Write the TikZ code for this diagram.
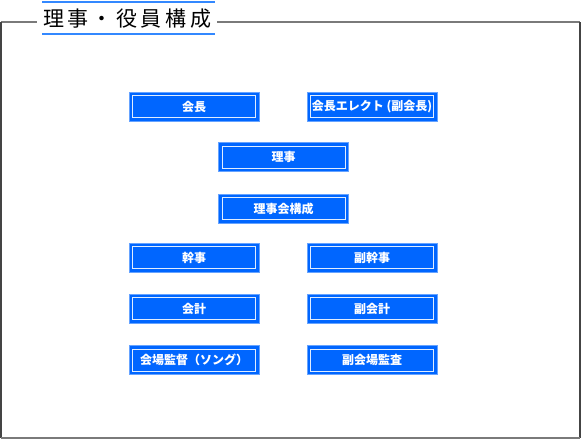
\documentclass[tikz,border=0pt]{standalone}
\usepackage{fontspec}
\newfontfamily\jp{Noto Sans CJK JP}
\definecolor{boxblue}{HTML}{0066FF}
\definecolor{edgeblue}{HTML}{66A3FF}
\definecolor{lineblue}{HTML}{3388FF}
\definecolor{framegray}{HTML}{7A7A7A}
\definecolor{framedark}{HTML}{444444}
\tikzset{
  rolebox/.style={draw=edgeblue, line width=1pt, fill=boxblue, minimum width=130pt, minimum height=29pt,
    inner sep=0pt, text=white, font=\jp\bfseries\fontsize{12}{14}\selectfont,
    path picture={
      \draw[white!88!boxblue, line width=1pt]
        ([xshift=3.5pt,yshift=-3.5pt]path picture bounding box.north west) rectangle
        ([xshift=-3.5pt,yshift=3.5pt]path picture bounding box.south east);
    }},
  frameline/.style={line width=2pt},
}
\begin{document}
\begin{tikzpicture}[x=1pt,y=-1pt]
\useasboundingbox (0,0) rectangle (581,440);
% frame
\coordinate (tl) at (1,22);
\coordinate (tr) at (580,22);
\coordinate (bl) at (1,438);
\coordinate (br) at (580,438);
\coordinate (ta) at (37,22);
\coordinate (tb) at (217,22);
\draw[frameline, framegray] (tl) -- (ta);
\draw[frameline, framegray] (tb) -- (tr);
\draw[frameline, framedark] (tl) -- (bl);
\draw[frameline, framedark] (tr) -- (br);
\draw[frameline, framegray] (bl) -- (br);
% title
\node[font=\jp\fontsize{21}{24}\selectfont, inner sep=0pt] (title) at (127,19) {理\,事\,・\,役\,員\,構\,成};
\coordinate (u1a) at (42,1.5); \coordinate (u1b) at (215,1.5);
\coordinate (u2a) at (42,34); \coordinate (u2b) at (215,34);
\draw[lineblue, line width=2pt] (u1a) -- (u1b);
\draw[lineblue, line width=2pt] (u2a) -- (u2b);
% boxes
\node[rolebox] (kaicho) at (194,106.5) {会長};
\node[rolebox] (elect) at (372,106.5) {会長エレクト (副会長)};
\node[rolebox] (riji) at (283.5,157) {理事};
\node[rolebox] (rijikai) at (283.5,208.5) {理事会構成};
\node[rolebox] (kanji) at (194,257.5) {幹事};
\node[rolebox] (fukukanji) at (372,257.5) {副幹事};
\node[rolebox] (kaikei) at (194,308.5) {会計};
\node[rolebox] (fukukaikei) at (372,308.5) {副会計};
\node[rolebox] (kanto) at (194,360) {会場監督（ソング）};
\node[rolebox] (fukukanto) at (372,360) {副会場監査};
\end{tikzpicture}
\end{document}
